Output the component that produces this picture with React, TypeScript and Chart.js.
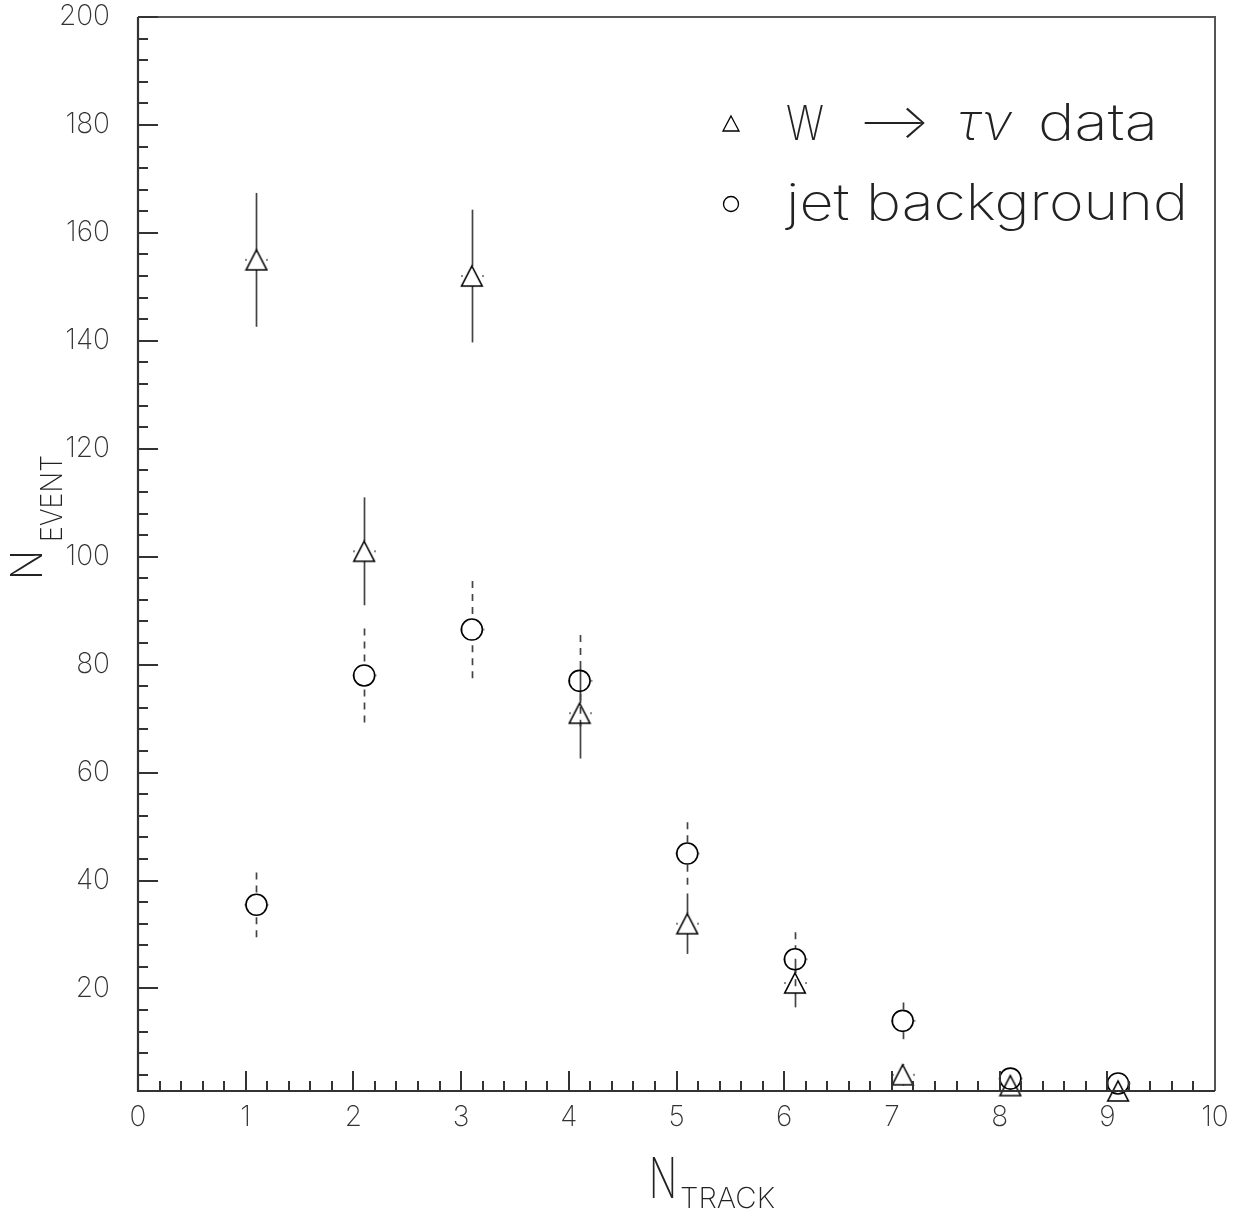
import React, { useEffect, useRef } from 'react';
import { Chart, registerables } from 'chart.js';

Chart.register(...registerables);

// ---- data ----
const nTrack = [1.1, 2.1, 3.1, 4.1, 5.1, 6.1, 7.1, 8.1, 9.1];
const wTauNu = [155, 101, 152, 71, 32, 21, 4, 2, 1];
const wTauNuErr = [12.4, 10, 12.3, 8.4, 5.6, 4.5, 2, 1.4, 1];
const jetBkg = [35.5, 78, 86.5, 77, 45, 25.4, 14, 3.3, 2.4];
const jetBkgErr = [6, 8.7, 9, 8.5, 5.8, 5, 3.4, 1.8, 1.5];
const yTickValues = [20, 40, 60, 80, 100, 120, 140, 160, 180, 200];
const xTickValues = [0, 1, 2, 3, 4, 5, 6, 7, 8, 9, 10];
const seriesLabels = ['W', '⟶', 'τν', 'data', 'jet background'];

const FONT = "Inter, 'DejaVu Sans', sans-serif";
const INK = '#222';
const AXIS = '#333';

function makeTriangle(): HTMLCanvasElement {
  const c = document.createElement('canvas');
  c.width = 24;
  c.height = 24;
  const g = c.getContext('2d')!;
  g.strokeStyle = '#000';
  g.lineWidth = 1.6;
  g.beginPath();
  g.moveTo(12, 2);
  g.lineTo(22.3, 22);
  g.lineTo(1.7, 22);
  g.closePath();
  g.stroke();
  return c;
}

function fitText(
  ctx: CanvasRenderingContext2D,
  text: string,
  x: number,
  y: number,
  width: number,
  font: string,
  rotate = false
) {
  ctx.save();
  ctx.font = font;
  ctx.fillStyle = INK;
  ctx.textAlign = 'left';
  ctx.textBaseline = 'alphabetic';
  const w = ctx.measureText(text).width || 1;
  ctx.translate(x, y);
  if (rotate) ctx.rotate(-Math.PI / 2);
  ctx.scale(width / w, 1);
  ctx.fillText(text, 0, 0);
  ctx.restore();
}

const errorBarPlugin = {
  id: 'errorBars',
  beforeDatasetsDraw(chart: any) {
    const { ctx, chartArea } = chart;
    const xs = chart.scales.x;
    const ys = chart.scales.y;
    chart.data.datasets.forEach((ds: any) => {
      ctx.save();
      ctx.strokeStyle = '#444';
      ctx.lineWidth = 1.7;
      ctx.setLineDash(ds.errDash);
      ds.data.forEach((p: any, i: number) => {
        const e = ds.errors[i];
        const px = Math.round(xs.getPixelForValue(p.x)) + 0.5;
        const py = ys.getPixelForValue(p.y);
        const top = ys.getPixelForValue(p.y + e);
        const bot = Math.min(ys.getPixelForValue(p.y - e), chartArea.bottom);
        const gap = ds.errGap;
        if (top < py - gap) {
          ctx.beginPath();
          ctx.moveTo(px, top);
          ctx.lineTo(px, py - gap);
          ctx.stroke();
        }
        if (bot > py + gap) {
          ctx.beginPath();
          ctx.moveTo(px, bot);
          ctx.lineTo(px, py + gap);
          ctx.stroke();
        }
        // tiny dotted horizontal caps
        ctx.setLineDash([]);
        ctx.fillStyle = '#888';
        ctx.fillRect(px - gap - 1.5, py - 1, 2, 2);
        ctx.fillRect(px + gap - 0.5, py - 1, 2, 2);
        ctx.setLineDash(ds.errDash);
      });
      ctx.restore();
    });
  },
};

const framePlugin = {
  id: 'frame',
  afterDraw(chart: any) {
    const { ctx, chartArea } = chart;
    const { left, right, top, bottom } = chartArea;
    const xs = chart.scales.x;
    const ys = chart.scales.y;
    ctx.save();
    // frame
    ctx.strokeStyle = '#555';
    ctx.lineWidth = 2;
    ctx.beginPath();
    ctx.moveTo(left, top);
    ctx.lineTo(right, top);
    ctx.lineTo(right, bottom);
    ctx.stroke();
    ctx.strokeStyle = AXIS;
    ctx.lineWidth = 2.2;
    ctx.beginPath();
    ctx.moveTo(left, top);
    ctx.lineTo(left, bottom);
    ctx.lineTo(right, bottom);
    ctx.stroke();
    // y ticks (inward)
    ctx.lineWidth = 2;
    for (let v = 4; v <= 200; v += 4) {
      if (v < ys.min) continue;
      const yy = Math.round(ys.getPixelForValue(v));
      const len = v % 20 === 0 ? 20 : 10;
      ctx.beginPath();
      ctx.moveTo(left, yy);
      ctx.lineTo(left + len, yy);
      ctx.stroke();
    }
    // x ticks (inward)
    for (let k = 1; k < 50; k++) {
      const v = k * 0.2;
      const xx = Math.round(xs.getPixelForValue(v));
      const len = k % 5 === 0 ? 20 : 10;
      ctx.beginPath();
      ctx.moveTo(xx, bottom);
      ctx.lineTo(xx, bottom - len);
      ctx.stroke();
    }
    ctx.restore();

    // axis titles
    fitText(ctx, 'N', 649, 1198, 28, `200 56px ${FONT}`);
    fitText(ctx, 'TRACK', 680, 1208, 95, `200 29px ${FONT}`);
    fitText(ctx, 'N', 42, 580, 30, `200 43px ${FONT}`, true);
    fitText(ctx, 'EVENT', 62, 542, 87, `200 30px ${FONT}`, true);

    // legend
    ctx.save();
    ctx.strokeStyle = '#000';
    ctx.lineWidth = 1.3;
    ctx.beginPath();
    ctx.moveTo(731, 116);
    ctx.lineTo(739, 131);
    ctx.lineTo(723, 131);
    ctx.closePath();
    ctx.stroke();
    ctx.beginPath();
    ctx.arc(731, 204, 7.5, 0, Math.PI * 2);
    ctx.stroke();
    ctx.restore();
    fitText(ctx, seriesLabels[0], 786, 140, 38, `200 48px ${FONT}`);
    fitText(ctx, seriesLabels[1], 858, 138, 72, `200 48px 'DejaVu Sans', ${FONT}`);
    fitText(ctx, seriesLabels[2], 958, 140, 54, `italic 200 50px ${FONT}`);
    fitText(ctx, seriesLabels[3], 1038, 140, 120, `200 50px ${FONT}`);
    fitText(ctx, seriesLabels[4], 786, 220, 402, `200 50px ${FONT}`);
  },
};

export default function App() {
  const ref = useRef<HTMLCanvasElement>(null);
  useEffect(() => {
    document.body.style.margin = '0';
    const canvas = ref.current!;
    const tri = makeTriangle();
    const chart = new Chart(canvas, {
      type: 'scatter',
      data: {
        datasets: [
          {
            label: 'W → τν data',
            data: nTrack.map((x, i) => ({ x, y: wTauNu[i] })),
            pointStyle: tri as any,
            pointRadius: 12,
            borderColor: '#000',
            backgroundColor: 'rgba(0,0,0,0)',
            clip: false as any,
            errors: wTauNuErr,
            errDash: [],
            errGap: 10,
          } as any,
          {
            label: 'jet background',
            data: nTrack.map((x, i) => ({ x, y: jetBkg[i] })),
            pointStyle: 'circle',
            pointRadius: 10.5,
            borderWidth: 1.6,
            borderColor: '#000',
            backgroundColor: 'rgba(0,0,0,0)',
            clip: false as any,
            errors: jetBkgErr,
            errDash: [7, 6],
            errGap: 10.5,
          } as any,
        ],
      },
      options: {
        animation: false,
        responsive: true,
        maintainAspectRatio: false,
        layout: { padding: { top: 17, right: 25, left: 0, bottom: 0 } },
        plugins: {
          legend: { display: false },
          tooltip: { enabled: false },
        },
        events: [],
        scales: {
          x: {
            type: 'linear',
            min: 0,
            max: 10,
            grid: { display: false, drawTicks: false },
            border: { display: false },
            afterBuildTicks: (s: any) => {
              s.ticks = xTickValues.map((v) => ({ value: v }));
            },
            afterFit: (s: any) => {
              s.height = 127;
              s.paddingLeft = 0;
              s.paddingRight = 0;
            },
            ticks: {
              padding: 10,
              color: AXIS,
              maxRotation: 0,
              font: { family: FONT, size: 28, weight: '200' as any },
            },
          },
          y: {
            type: 'linear',
            min: 1,
            max: 200,
            grid: { display: false, drawTicks: false },
            border: { display: false },
            afterBuildTicks: (s: any) => {
              s.ticks = yTickValues.map((v) => ({ value: v }));
            },
            afterFit: (s: any) => {
              s.width = 138;
              s.paddingTop = 0;
              s.paddingBottom = 0;
            },
            ticks: {
              padding: 28,
              color: AXIS,
              font: { family: FONT, size: 28, weight: '200' as any },
            },
          },
        },
      },
      plugins: [errorBarPlugin, framePlugin],
    });
    return () => chart.destroy();
  }, []);
  return (
    <div style={{ width: 1240, height: 1218, position: 'relative', background: '#fff' }}>
      <canvas ref={ref} />
    </div>
  );
}
